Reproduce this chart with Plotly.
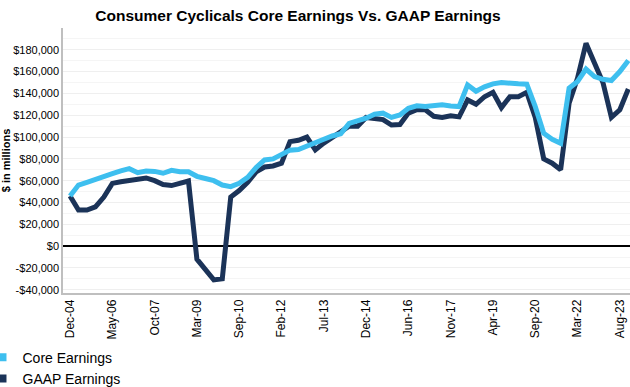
import plotly.graph_objects as go

dates = [
    "Dec-04", "Mar-05", "Jul-05", "Oct-05", "Jan-06",
    "May-06", "Aug-06", "Dec-06", "Mar-07", "Jun-07",
    "Oct-07", "Jan-08", "Apr-08", "Aug-08", "Nov-08",
    "Mar-09", "Jun-09", "Oct-09", "Jan-10", "May-10",
    "Sep-10", "Dec-10", "Apr-11", "Jul-11", "Oct-11",
    "Feb-12", "May-12", "Aug-12", "Dec-12", "Mar-13",
    "Jul-13", "Oct-13", "Jan-14", "May-14", "Aug-14",
    "Dec-14", "Mar-15", "Jul-15", "Nov-15", "Feb-16",
    "Jun-16", "Sep-16", "Dec-16", "Apr-17", "Jul-17",
    "Nov-17", "Feb-18", "May-18", "Sep-18", "Dec-18",
    "Apr-19", "Jul-19", "Oct-19", "Feb-20", "May-20",
    "Sep-20", "Dec-20", "Apr-21", "Jul-21", "Nov-21",
    "Mar-22", "Jun-22", "Sep-22", "Jan-23", "Apr-23",
    "Aug-23", "Nov-23",
]

core_earnings = [
    46000, 56000, 58500, 61500, 63600,
    66500, 69000, 71000, 67300, 68900,
    68500, 66800, 69500, 68200, 68200,
    64000, 62000, 60000, 56000, 54500,
    57500, 63000, 72000, 79000, 80000,
    84000, 88000, 88500, 92000, 95000,
    98000, 101000, 103000, 112500, 114500,
    117300, 121000, 121900, 118000, 120300,
    126400, 128600, 128000, 128500, 129500,
    128500, 128000, 147800, 142000, 146000,
    148800, 150000, 149000, 148800, 148500,
    127900, 103500, 98000, 94300, 144800,
    151000, 162300, 155500, 153000, 151800,
    160100, 170200,
]

gaap_earnings = [
    46000, 33000, 33000, 36000, 45000,
    57500, 59000, 60500, 61800, 62500,
    60000, 56500, 55500, 57500, 59700,
    -12000, -21000, -31000, -30000, 45000,
    51000, 58500, 68000, 72500, 73500,
    76000, 95800, 97000, 100000, 88200,
    94500, 100000, 105000, 110000, 110000,
    118000, 117000, 116000, 111000, 111500,
    122000, 125000, 125000, 119000, 118000,
    119500, 118500, 134000, 130000, 137000,
    141000, 127000, 137000, 137000, 141000,
    118000, 80000, 76000, 70000, 131000,
    154000, 186000, 168000, 150000, 118000,
    125000, 144000,
]

tick_labels = [
    "Dec-04", "May-06", "Oct-07", "Mar-09", "Sep-10", "Feb-12", "Jul-13",
    "Dec-14", "Jun-16", "Nov-17", "Apr-19", "Sep-20", "Mar-22", "Aug-23",
]

y_ticks = list(range(-40000, 180001, 20000))
y_tick_text = [("-$" if v < 0 else "$") + f"{abs(v):,}" for v in y_ticks]

CORE_COLOR = "#3EBFEF"
GAAP_COLOR = "#1B3358"
FONT = "Liberation Sans, Arial, sans-serif"

fig = go.Figure()

fig.add_trace(go.Scatter(
    x=dates, y=gaap_earnings, mode="lines", name="GAAP Earnings",
    line=dict(color=GAAP_COLOR, width=5), showlegend=False,
))
fig.add_trace(go.Scatter(
    x=dates, y=core_earnings, mode="lines", name="Core Earnings",
    line=dict(color=CORE_COLOR, width=5), showlegend=False,
))
# legend entries with square swatches
fig.add_trace(go.Scatter(
    x=[None], y=[None], mode="markers", name="Core Earnings",
    marker=dict(symbol="square", color=CORE_COLOR, size=8), legendrank=1,
))
fig.add_trace(go.Scatter(
    x=[None], y=[None], mode="markers", name="GAAP Earnings",
    marker=dict(symbol="square", color=GAAP_COLOR, size=8), legendrank=2,
))

fig.update_layout(
    width=630, height=387,
    margin=dict(l=63, r=0, t=28, b=94, autoexpand=False),
    paper_bgcolor="white", plot_bgcolor="white",
    font=dict(family=FONT, color="#000000", size=12),
    title=dict(
        text="<b>Consumer Cyclicals Core Earnings Vs. GAAP Earnings</b>",
        x=0.473, xanchor="center", xref="container",
        y=0.96, yanchor="middle", yref="container",
        font=dict(family=FONT, size=15.5, color="#000000"),
    ),
    showlegend=True,
    legend=dict(
        xref="paper", yref="container",
        x=-0.142, y=0.117, xanchor="left", yanchor="top",
        orientation="v", font=dict(family=FONT, size=14, color="#000000"),
        bgcolor="rgba(0,0,0,0)", itemwidth=30, tracegroupgap=0,
        traceorder="normal",
    ),
    xaxis=dict(
        type="category",
        range=[-0.83, 66.2],
        tickmode="array", tickvals=tick_labels, ticktext=tick_labels,
        tickangle=-90, tickfont=dict(family=FONT, size=12, color="#000000"),
        showgrid=False, showline=True, linecolor="#BFBFBF", linewidth=1.5,
        ticks="", zeroline=False,
    ),
    yaxis=dict(
        range=[-43000, 200000],
        tickmode="array", tickvals=y_ticks, ticktext=y_tick_text,
        tickfont=dict(family=FONT, size=11, color="#000000"),
        showgrid=True, gridcolor="#EFEFEF", gridwidth=1,
        minor=dict(dtick=10000, tick0=0, showgrid=True, gridcolor="#F5F5F5", gridwidth=1),
        zeroline=True, zerolinecolor="#000000", zerolinewidth=1.5,
        showline=True, linecolor="#BFBFBF", linewidth=1.5,
        ticks="",
        title=dict(text="<b>$ in millions</b>", font=dict(family=FONT, size=11, color="#000000"), standoff=3),
    ),
)

fig.write_html(
    "out.html",
    config={"displayModeBar": False},
    post_script="document.body.style.margin='0';",
)
